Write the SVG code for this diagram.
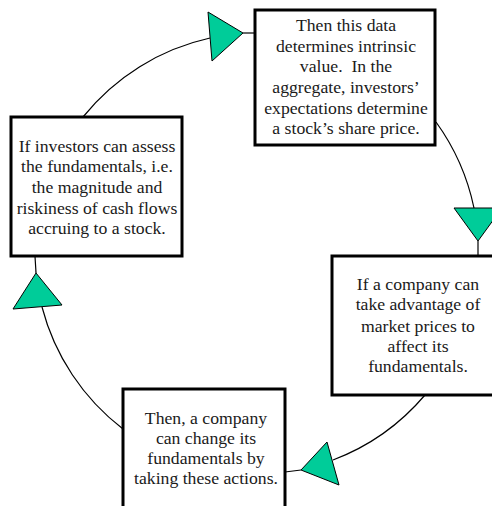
<svg xmlns="http://www.w3.org/2000/svg" width="492" height="506" viewBox="0 0 492 506">
<style>
.box{fill:#fff;stroke:#000;stroke-width:3}
.t{font-family:"Liberation Serif","Times New Roman",serif;font-size:17.7px;fill:#1a1a1a;text-anchor:middle}
.c{fill:none;stroke:#000;stroke-width:1.2}
.tri{fill:#00cc99;stroke:#000;stroke-width:1}
</style>
<rect width="492" height="506" fill="#fff"/>
<g id="connectors">
<path class="c" d="M83,117 A225,225 0 0 1 210,38"/>
<line class="c" x1="243" y1="33" x2="255" y2="33"/>
<path class="c" d="M436,122 A225,225 0 0 1 474,208"/>
<line class="c" x1="478" y1="241" x2="478" y2="256"/>
<path class="c" d="M425,395 A225,225 0 0 1 333,460"/>
<line class="c" x1="301" y1="470" x2="285" y2="472"/>
<path class="c" d="M123,429 A225,225 0 0 1 42,307"/>
<line class="c" x1="36" y1="273" x2="35" y2="256"/>
<polygon class="tri" points="208,12 243,33 212,61"/>
<polygon class="tri" points="454,208 502,208 478,241"/>
<polygon class="tri" points="327,442 339,485 301,470"/>
<polygon class="tri" points="36,273 62,305 13,309"/>
</g>
<g id="node1">
<rect class="box" x="11" y="117" width="171" height="139"/>
<text class="t" x="97" y="152">If investors can assess</text>
<text class="t" x="97" y="172">the fundamentals, i.e.</text>
<text class="t" x="97" y="193">the magnitude and</text>
<text class="t" x="97" y="214">riskiness of cash flows</text>
<text class="t" x="97" y="234">accruing to a stock.</text>
</g>
<g id="node2">
<rect class="box" x="255" y="10" width="180" height="135"/>
<text class="t" x="346" y="31">Then this data</text>
<text class="t" x="346" y="52">determines intrinsic</text>
<text class="t" x="346" y="72" xml:space="preserve">value.  In the</text>
<text class="t" x="346" y="93">aggregate, investors’</text>
<text class="t" x="346" y="114">expectations determine</text>
<text class="t" x="346" y="134">a stock’s share price.</text>
</g>
<g id="node3">
<rect class="box" x="332" y="256" width="175" height="139"/>
<text class="t" x="418" y="290">If a company can</text>
<text class="t" x="418" y="310">take advantage of</text>
<text class="t" x="418" y="332">market prices to</text>
<text class="t" x="418" y="352">affect its</text>
<text class="t" x="418" y="372">fundamentals.</text>
</g>
<g id="node4">
<rect class="box" x="123" y="389" width="162" height="130"/>
<text class="t" x="206" y="424">Then, a company</text>
<text class="t" x="206" y="444">can change its</text>
<text class="t" x="206" y="464">fundamentals by</text>
<text class="t" x="206" y="484">taking these actions.</text>
</g>
</svg>
